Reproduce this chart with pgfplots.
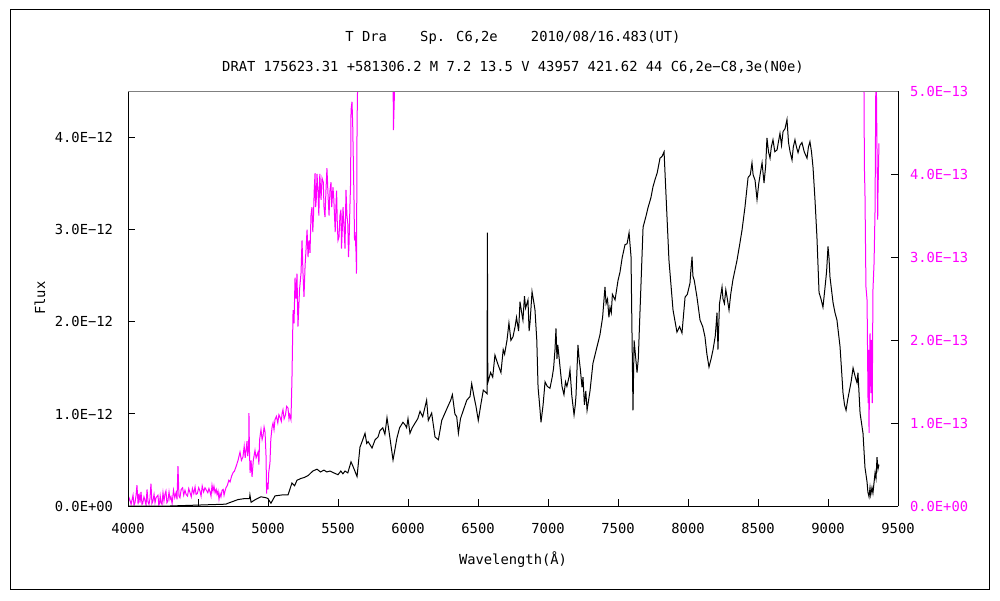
\documentclass[border=0pt]{standalone}
\usepackage{fontspec}
\setmainfont{DejaVu Sans Mono}
\usepackage{pgfplots}
\pgfplotsset{compat=1.18}
\definecolor{mag}{HTML}{FF00FF}
\begin{document}
\fontsize{6.9}{8.5}\selectfont
\begin{tikzpicture}
\useasboundingbox (0,0) rectangle (500pt,300pt);
\draw[black,line width=0.5pt] (5pt,5.5pt) rectangle (494.5pt,295pt);
% right axis (magenta, x 1E-13)
\begin{axis}[name=right,
  at={(64pt,47pt)}, anchor=south west,
  scale only axis, width=385pt, height=207.5pt,
  xmin=4000, xmax=9500, ymin=0, ymax=5,
  axis x line=none, axis y line*=right,
  axis line style={black,line width=0.5pt},
  tick align=inside, major tick length=3.5pt,
  tick style={black,line width=0.5pt},
  ytick={0,1,2,3,4,5},
  yticklabels={0.0E+00,1.0E−13,2.0E−13,3.0E−13,4.0E−13,5.0E−13},
  yticklabel style={text=mag,font=\fontsize{6.9}{8.5}\selectfont,xshift=3.5pt},
]
\addplot[mag,line width=0.5pt] coordinates {
(4000,0.02)(4007,0.10)(4014,0.07)(4022,0.02)(4036,0.13)(4043,0.01)(4050,0.04)(4057,0.12)(4064,0.25)(4072,0.02)(4079,0.15)(4086,0.04)(4093,0.17)(4100,0.02)(4105,0.03)(4114,0.11)(4121,0.07)(4129,0.01)(4136,0.20)(4143,0.05)(4150,0.02)
(4157,0.09)(4164,0.27)(4171,0.03)(4178,0.06)(4186,0.14)(4193,0.04)(4200,0.10)(4214,0.13)(4220,0.01)(4225,0.03)(4230,0.12)(4236,0.04)(4243,0.02)(4250,0.16)(4257,0.06)(4264,0.14)(4271,0.18)(4278,0.04)(4285,0.06)(4293,0.17)(4300,0.08)(4307,0.11)(4315,0.03)(4325,0.19)(4334,0.10)(4343,0.16)
(4350,0.08)(4357,0.48)(4364,0.12)(4371,0.10)(4380,0.20)(4390,0.22)(4398,0.13)(4407,0.19)(4415,0.14)(4425,0.12)(4434,0.21)(4443,0.16)(4452,0.11)(4460,0.21)(4470,0.15)(4479,0.23)(4486,0.14)(4495,0.15)(4505,0.22)(4514,0.18)(4522,0.12)(4530,0.24)(4540,0.17)(4550,0.22)(4560,0.19)(4570,0.16)
(4578,0.21)(4586,0.17)(4593,0.12)(4600,0.25)(4607,0.18)(4614,0.24)(4622,0.16)(4630,0.20)(4636,0.14)(4643,0.18)(4650,0.08)(4657,0.15)(4664,0.11)(4672,0.19)(4680,0.20)(4686,0.13)(4693,0.18)(4700,0.22)(4710,0.25)(4720,0.31)(4729,0.29)(4740,0.36)(4750,0.40)(4760,0.42)(4771,0.47)(4786,0.55)
(4800,0.65)(4810,0.55)(4821,0.59)(4830,0.72)(4837,0.58)(4843,0.67)(4850,0.78)(4855,0.60)(4862,0.70)(4864,1.12)(4867,0.70)(4872,0.40)(4879,0.55)(4886,0.35)(4895,0.55)(4907,0.67)(4915,0.58)(4929,0.65)(4935,0.50)(4940,0.80)
(4950,0.92)(4958,0.80)(4965,0.85)(4972,0.95)(4979,0.89)(4986,0.60)(4990,0.15)(4993,0.28)(5000,0.20)(5005,0.40)(5014,0.52)(5020,0.80)(5029,0.95)(5036,1.00)(5043,0.92)(5050,1.04)(5060,1.08)(5070,1.00)(5078,1.10)(5086,1.07)(5095,1.02)(5101,1.12)(5107,1.16)(5115,1.05)(5125,1.10)(5133,1.20)
(5143,1.18)(5150,1.05)(5155,1.10)(5164,1.04)(5171,1.52)(5179,2.36)(5186,2.20)(5193,2.75)(5200,2.50)(5207,2.80)(5214,2.16)(5220,2.40)(5225,2.60)(5236,2.81)(5243,3.20)(5250,2.80)(5257,2.52)
(5265,2.90)(5272,3.10)(5279,3.33)(5286,3.00)(5293,3.20)(5300,3.05)(5307,3.50)(5314,3.60)(5320,3.30)(5325,3.50)(5330,3.80)(5336,4.01)(5340,3.60)(5345,3.70)(5350,4.00)(5357,3.81)(5363,3.50)(5370,4.00)(5379,3.69)(5386,3.95)(5395,3.90)(5400,3.60)(5407,3.48)(5414,3.80)(5421,4.07)
(5430,3.70)(5436,3.50)(5443,3.81)(5450,3.90)(5455,3.60)(5464,3.84)(5470,3.70)(5475,3.50)(5480,3.30)(5486,3.65)(5490,3.80)(5495,3.40)(5500,3.20)(5507,3.24)(5514,3.50)(5521,3.57)(5525,3.10)(5530,3.30)(5536,3.60)(5543,3.36)(5550,3.10)(5557,3.81)
(5564,3.50)(5570,3.40)(5575,3.00)(5579,3.17)(5585,3.60)(5590,3.90)(5593,4.77)(5600,4.87)(5605,4.60)(5608,4.30)(5614,3.72)(5618,3.20)(5622,3.30)(5629,3.05)(5632,2.80)(5636,4.60)(5643,5.40)(5660,6.0)
(5890,6.0)(5896,4.53)(5902,4.90)(5910,6.0)(9250,6.0)
(9257,5.0)(9260,4.08)(9264,3.77)(9271,2.64)(9279,2.48)(9286,1.24)(9290,1.88)(9293,0.88)(9297,1.60)(9300,2.08)(9304,1.50)(9307,1.36)(9310,2.00)(9312,1.76)(9316,1.24)
(9321,2.60)(9329,2.93)(9336,3.57)(9343,5.50)(9350,4.29)(9355,3.45)(9357,3.77)(9364,4.37)
};
\end{axis}
% left axis (black, x 1E-12)
\begin{axis}[name=main,
  at={(64pt,47pt)}, anchor=south west,
  scale only axis, width=385pt, height=207.5pt,
  xmin=4000, xmax=9500, ymin=0, ymax=4.51,
  axis x line*=bottom, axis y line*=left,
  axis line style={black,line width=0.5pt},
  tick align=inside, major tick length=3.5pt,
  tick style={black,line width=0.5pt},
  xtick={4000,4500,5000,5500,6000,6500,7000,7500,8000,8500,9000,9500},
  xticklabels={4000,4500,5000,5500,6000,6500,7000,7500,8000,8500,9000,9500},
  ytick={0,1,2,3,4},
  yticklabels={0.0E+00,1.0E−12,2.0E−12,3.0E−12,4.0E−12},
  yticklabel style={font=\fontsize{6.9}{8.5}\selectfont,xshift=-5pt},
  xticklabel style={font=\fontsize{6.9}{8.5}\selectfont,yshift=-6pt},
]
\addplot[black,line width=0.5pt] coordinates {
(4000,0.00)(4300,0.00)(4500,0.01)(4700,0.02)(4714,0.03)(4750,0.05)(4786,0.07)(4830,0.08)(4868,0.08)(4871,0.12)(4879,0.04)(4910,0.07)
(4950,0.10)(4986,0.09)(5000,0.08)(5021,0.03)(5050,0.11)(5100,0.12)(5143,0.12)(5171,0.25)(5190,0.22)(5207,0.28)(5236,0.30)(5260,0.31)(5286,0.33)
(5320,0.38)(5350,0.40)(5375,0.37)(5400,0.39)(5420,0.37)(5443,0.38)(5470,0.36)(5500,0.34)(5520,0.38)(5535,0.35)(5550,0.38)(5570,0.36)(5593,0.48)(5610,0.42)(5636,0.32)
(5657,0.64)(5672,0.70)(5693,0.79)(5705,0.68)(5715,0.70)(5743,0.63)(5765,0.72)(5786,0.75)(5800,0.82)(5820,0.85)(5835,0.78)(5850,0.96)(5870,0.75)(5893,0.50)(5905,0.60)(5921,0.74)(5940,0.85)(5964,0.91)
(5980,0.88)(5990,0.85)(6000,0.95)(6014,0.79)(6030,0.85)(6050,0.90)(6070,0.95)(6086,1.03)(6105,0.97)(6133,1.15)(6145,0.93)(6169,1.01)(6193,0.75)(6217,0.72)(6241,0.93)(6264,1.01)
(6290,1.10)(6305,1.15)(6317,1.21)(6335,1.00)(6348,0.97)(6360,0.79)(6375,0.95)(6395,1.04)(6420,1.15)(6443,1.19)(6455,1.33)(6470,1.20)(6486,1.08)(6502,0.93)(6520,1.10)(6538,1.26)(6565,1.22)
(6567,2.97)(6570,1.34)(6590,1.45)(6605,1.40)(6621,1.64)(6640,1.55)(6664,1.45)(6680,1.70)(6690,1.65)(6707,1.80)(6721,1.99)(6735,1.80)(6750,1.84)(6765,1.95)(6775,2.05)(6790,1.90)(6800,2.22)(6812,2.10)(6821,2.02)
(6832,2.28)(6840,2.15)(6857,2.24)(6865,1.90)(6872,2.00)(6886,2.33)(6900,2.20)(6907,2.13)(6920,1.80)(6929,1.29)(6940,1.10)(6950,0.91)(6965,1.10)(6979,1.35)(6995,1.30)(7014,1.28)(7030,1.40)(7040,1.50)(7050,1.70)(7057,1.93)
(7064,1.60)(7070,1.75)(7086,1.51)(7100,1.30)(7114,1.21)(7125,1.35)(7135,1.30)(7150,1.40)(7157,1.48)(7170,1.20)(7186,0.99)(7195,1.10)(7200,1.20)(7214,1.75)(7222,1.60)(7230,1.50)(7243,1.29)(7250,1.40)(7260,1.10)(7270,1.25)(7279,1.04)
(7290,1.15)(7300,1.25)(7321,1.55)(7345,1.70)(7371,1.86)(7390,2.05)(7407,2.38)(7415,2.20)(7425,2.25)(7435,2.05)(7443,2.16)(7452,2.10)(7460,2.30)(7479,2.24)(7500,2.45)(7514,2.54)(7530,2.70)(7550,2.84)(7565,2.85)
(7579,2.97)(7593,2.71)(7607,1.04)(7615,1.80)(7621,1.70)(7636,1.45)(7645,1.60)(7657,2.11)(7679,3.03)(7700,3.15)(7714,3.24)(7735,3.35)(7750,3.47)(7765,3.55)(7780,3.62)(7800,3.78)(7815,3.80)(7829,3.85)
(7850,3.14)(7864,2.67)(7893,2.13)(7921,1.89)(7940,1.95)(7957,1.88)(7979,2.27)(7995,2.30)(8014,2.42)(8020,2.55)(8029,2.71)(8035,2.50)(8045,2.45)(8064,2.27)(8086,2.02)
(8105,1.95)(8121,1.84)(8135,1.65)(8150,1.51)(8165,1.60)(8179,1.70)(8195,1.85)(8207,2.10)(8214,1.70)(8225,2.20)(8243,2.38)(8250,2.25)(8260,2.20)(8270,2.35)(8279,2.27)(8293,2.13)(8305,2.30)(8321,2.46)(8350,2.67)(8370,2.85)(8386,3.00)
(8407,3.25)(8429,3.57)(8445,3.60)(8457,3.73)(8465,3.60)(8479,3.54)(8493,3.33)(8505,3.50)(8515,3.60)(8529,3.73)(8543,3.51)(8555,3.70)(8564,4.00)(8575,3.85)(8586,3.78)(8595,3.90)(8607,3.98)(8620,3.85)(8636,3.87)(8645,3.95)(8657,4.05)
(8668,3.92)(8679,4.07)(8693,4.10)(8707,4.20)(8718,3.95)(8729,3.85)(8743,3.76)(8752,3.90)(8764,3.98)(8775,3.90)(8786,3.84)(8800,3.92)(8814,3.95)(8830,3.85)(8850,3.78)(8860,3.90)(8871,3.96)(8882,3.85)(8893,3.68)(8907,3.33)(8921,2.92)
(8936,2.32)(8950,2.25)(8964,2.16)(8979,2.38)(8990,2.55)(9000,2.82)(9007,2.70)(9014,2.49)(9036,2.21)(9050,2.10)(9064,2.02)(9086,1.73)(9100,1.40)(9107,1.23)(9118,1.10)(9129,1.04)(9140,1.15)(9150,1.23)(9165,1.35)(9179,1.50)
(9195,1.40)(9207,1.34)(9214,1.45)(9229,1.01)(9250,0.79)(9264,0.42)(9279,0.26)(9285,0.15)(9293,0.10)(9300,0.20)(9305,0.12)(9314,0.20)(9321,0.14)(9336,0.36)(9343,0.30)(9350,0.53)(9357,0.40)(9364,0.45)
};
\end{axis}
\draw[gray,line width=0.5pt] (main.north west) -- (main.north east);
\node at ([yshift=26.5pt]main.north) {T Dra\ \ \ \ Sp. C6,2e\ \ \ \ 2010/08/16.483(UT)};
\node at ([yshift=12pt]main.north) {DRAT 175623.31 +581306.2 M 7.2 13.5 V 43957 421.62 44 C6,2e−C8,3e(N0e)};
\node[rotate=90] at (20pt,151pt) {Flux};
\node at (256.5pt,20pt) {Wavelength(Å)};
\end{tikzpicture}
\end{document}
